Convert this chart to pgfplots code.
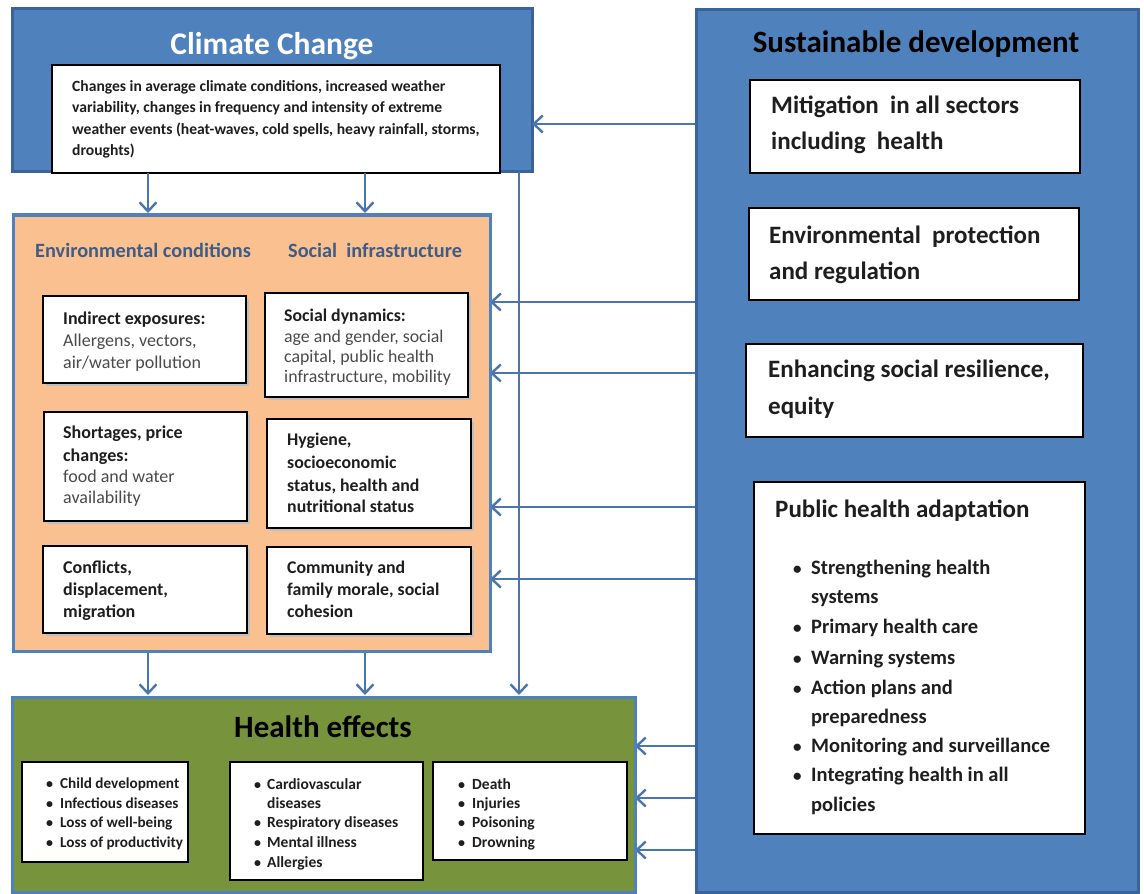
\documentclass[border=0pt]{standalone}
\usepackage{pgfplots}
\pgfplotsset{compat=1.18}
\usepackage{fontspec}
\setmainfont{Carlito}
\usetikzlibrary{arrows.meta}
\definecolor{cblue}{HTML}{4F81BD}
\definecolor{cbord}{HTML}{3A6399}
\definecolor{corange}{HTML}{FAC090}
\definecolor{cgreen}{HTML}{77933C}
\definecolor{carrow}{HTML}{4A75AE}
\definecolor{chead}{HTML}{3D5C87}
\definecolor{ctxt}{HTML}{1E1E1E}
\definecolor{cgray}{HTML}{4A4A4A}
% text line: x, baseline y, size, style, text
\newcommand{\tl}[5]{\node[anchor=base west,inner sep=0pt,font=\fontsize{#3}{#3}\selectfont#4,text=ctxt] at (axis cs:#1,#2) {#5};}
\newcommand{\tg}[5]{\node[anchor=base west,inner sep=0pt,font=\fontsize{#3}{#3}\selectfont#4,text=cgray] at (axis cs:#1,#2) {#5};}
\newcommand{\wbox}[4]{\fill[black!25] (axis cs:#1+3,#2+3) rectangle (axis cs:#3+3,#4+3);
  \draw[black,line width=1.6pt,fill=white] (axis cs:#1,#2) rectangle (axis cs:#3,#4);}
\newcommand{\arr}[4]{\draw[carrow,line width=2.4pt,-{Straight Barb[length=9pt,width=17pt,line width=2.4pt]}] (axis cs:#1,#2) -- (axis cs:#3,#4);}
\begin{document}
\begin{tikzpicture}
\begin{axis}[width=1144pt,height=890pt,scale only axis,
  xmin=0,xmax=1144,ymin=0,ymax=890,y dir=reverse,hide axis,clip=false]
\fill[white] (axis cs:0,0) rectangle (axis cs:1144,890);
% ---------- Climate change
\draw[cbord,line width=3pt,fill=cblue] (axis cs:12,9) rectangle (axis cs:532,172);
\node[anchor=base,inner sep=0pt,font=\fontsize{31.5}{31.5}\selectfont\bfseries,text=white] at (axis cs:272,55) {Climate Change};
\draw[black,line width=1.6pt,fill=white] (axis cs:52,65) rectangle (axis cs:500,173);
\tl{72}{92}{15.6}{\bfseries}{Changes in average climate conditions, increased weather}
\tl{72}{113}{15.6}{\bfseries}{variability, changes in frequency and intensity of extreme}
\tl{72}{135}{15.6}{\bfseries}{weather events (heat-waves, cold spells, heavy rainfall, storms,}
\tl{72}{156}{15.6}{\bfseries}{droughts)}
% ---------- arrows
\arr{148}{173}{148}{213}
\arr{365}{173}{365}{213}
\arr{519}{172}{519}{695}
\arr{148}{651}{148}{695}
\arr{365}{651}{365}{695}
\arr{696}{124}{532}{124}
\arr{696}{302}{490}{302}
\arr{696}{373}{490}{373}
\arr{696}{507}{490}{507}
\arr{696}{579}{490}{579}
\arr{696}{746}{635}{746}
\arr{696}{798}{635}{798}
\arr{696}{850}{635}{850}
% ---------- orange box
\draw[cblue,line width=3pt,fill=corange] (axis cs:13,215) rectangle (axis cs:490,651);
\node[anchor=base west,inner sep=0pt,font=\fontsize{20.3}{20.3}\selectfont\bfseries,text=chead] at (axis cs:35,258) {Environmental conditions};
\node[anchor=base west,inner sep=0pt,font=\fontsize{20.3}{20.3}\selectfont\bfseries,text=chead] at (axis cs:288,258) {Social\ \ infrastructure};
\wbox{43}{296}{246}{383}
\wbox{265}{293}{468}{397}
\wbox{44}{412}{247}{521}
\wbox{267}{419}{471}{528}
\wbox{43}{546}{247}{633}
\wbox{267}{547}{471}{634}
\tl{63}{324}{18}{\bfseries}{Indirect exposures:}
\tg{63}{346}{18}{}{Allergens, vectors,}
\tg{63}{368}{18}{}{air/water pollution}
\tl{63}{438}{18}{\bfseries}{Shortages, price}
\tl{63}{461}{18}{\bfseries}{changes:}
\tg{63}{482}{18}{}{food and water}
\tg{63}{503}{18}{}{availability}
\tl{63}{573}{18}{\bfseries}{Conflicts,}
\tl{63}{595}{18}{\bfseries}{displacement,}
\tl{63}{617}{18}{\bfseries}{migration}
\tl{284}{321}{17.8}{\bfseries}{Social dynamics:}
\tg{284}{342}{17.8}{}{age and gender, social}
\tg{284}{362}{17.8}{}{capital, public health}
\tg{284}{382}{17.8}{}{infrastructure, mobility}
\tl{287}{445}{17.8}{\bfseries}{Hygiene,}
\tl{287}{468}{17.8}{\bfseries}{socioeconomic}
\tl{287}{491}{17.8}{\bfseries}{status, health and}
\tl{287}{512}{17.8}{\bfseries}{nutritional status}
\tl{287}{573}{17.8}{\bfseries}{Community and}
\tl{287}{595}{17.8}{\bfseries}{family morale, social}
\tl{287}{617}{17.8}{\bfseries}{cohesion}
% ---------- health effects
\draw[cblue,line width=3pt,fill=cgreen] (axis cs:12,697) rectangle (axis cs:635,892);
\node[anchor=base,inner sep=0pt,font=\fontsize{31}{31}\selectfont\bfseries,text=black] at (axis cs:323,737) {Health effects};
\draw[black,line width=1.6pt,fill=white] (axis cs:22,762) rectangle (axis cs:188,862);
\draw[black,line width=1.6pt,fill=white] (axis cs:230,762) rectangle (axis cs:423,880);
\draw[black,line width=1.6pt,fill=white] (axis cs:433,762) rectangle (axis cs:627,860);
\tl{46}{788}{14}{\bfseries}{\textbullet}
\tl{46}{808}{14}{\bfseries}{\textbullet}
\tl{46}{827}{14}{\bfseries}{\textbullet}
\tl{46}{847}{14}{\bfseries}{\textbullet}
\tl{60}{788}{15.2}{\bfseries}{Child development}
\tl{60}{808}{15.2}{\bfseries}{Infectious diseases}
\tl{60}{827}{15.2}{\bfseries}{Loss of well-being}
\tl{60}{847}{15.2}{\bfseries}{Loss of productivity}
\tl{254}{789}{14}{\bfseries}{\textbullet}
\tl{254}{827}{14}{\bfseries}{\textbullet}
\tl{254}{847}{14}{\bfseries}{\textbullet}
\tl{254}{867}{14}{\bfseries}{\textbullet}
\tl{267}{789}{15.5}{\bfseries}{Cardiovascular}
\tl{267}{808}{15.5}{\bfseries}{diseases}
\tl{267}{827}{15.5}{\bfseries}{Respiratory diseases}
\tl{267}{847}{15.5}{\bfseries}{Mental illness}
\tl{267}{867}{15.5}{\bfseries}{Allergies}
\tl{458}{789}{14}{\bfseries}{\textbullet}
\tl{458}{808}{14}{\bfseries}{\textbullet}
\tl{458}{827}{14}{\bfseries}{\textbullet}
\tl{458}{847}{14}{\bfseries}{\textbullet}
\tl{472}{789}{15.5}{\bfseries}{Death}
\tl{472}{808}{15.5}{\bfseries}{Injuries}
\tl{472}{827}{15.5}{\bfseries}{Poisoning}
\tl{472}{847}{15.5}{\bfseries}{Drowning}
% ---------- sustainable development
\draw[cbord,line width=3pt,fill=cblue] (axis cs:696,10) rectangle (axis cs:1138,892);
\node[anchor=base,inner sep=0pt,font=\fontsize{31}{31}\selectfont\bfseries,text=black] at (axis cs:916,53) {Sustainable development};
\draw[black,line width=1.6pt,fill=white] (axis cs:750,80) rectangle (axis cs:1080,173);
\draw[black,line width=1.6pt,fill=white] (axis cs:749,208) rectangle (axis cs:1079,300);
\draw[black,line width=1.6pt,fill=white] (axis cs:746,344) rectangle (axis cs:1083,437);
\draw[black,line width=1.6pt,fill=white] (axis cs:754,482) rectangle (axis cs:1085,834);
\tl{771}{114}{25}{\bfseries}{Mitigation\ \ in all sectors}
\tl{771}{150}{25}{\bfseries}{including\ \ health}
\tl{769}{243}{25}{\bfseries}{Environmental\ \ protection}
\tl{769}{279}{25}{\bfseries}{and regulation}
\tl{768}{377}{25}{\bfseries}{Enhancing\ social\ resilience,}
\tl{768}{414}{25}{\bfseries}{equity}
\tl{775}{517}{25}{\bfseries}{Public health adaptation}
\tl{793}{574}{17}{\bfseries}{\textbullet}
\tl{793}{633}{17}{\bfseries}{\textbullet}
\tl{793}{664}{17}{\bfseries}{\textbullet}
\tl{793}{694}{17}{\bfseries}{\textbullet}
\tl{793}{752}{17}{\bfseries}{\textbullet}
\tl{793}{781}{17}{\bfseries}{\textbullet}
\tl{811}{574}{20.5}{\bfseries}{Strengthening health}
\tl{811}{603}{20.5}{\bfseries}{systems}
\tl{811}{633}{20.5}{\bfseries}{Primary health care}
\tl{811}{664}{20.5}{\bfseries}{Warning systems}
\tl{811}{694}{20.5}{\bfseries}{Action plans and}
\tl{811}{723}{20.5}{\bfseries}{preparedness}
\tl{811}{752}{20.5}{\bfseries}{Monitoring and surveillance}
\tl{811}{781}{20.5}{\bfseries}{Integrating health in all}
\tl{811}{811}{20.5}{\bfseries}{policies}
\end{axis}
\end{tikzpicture}
\end{document}
